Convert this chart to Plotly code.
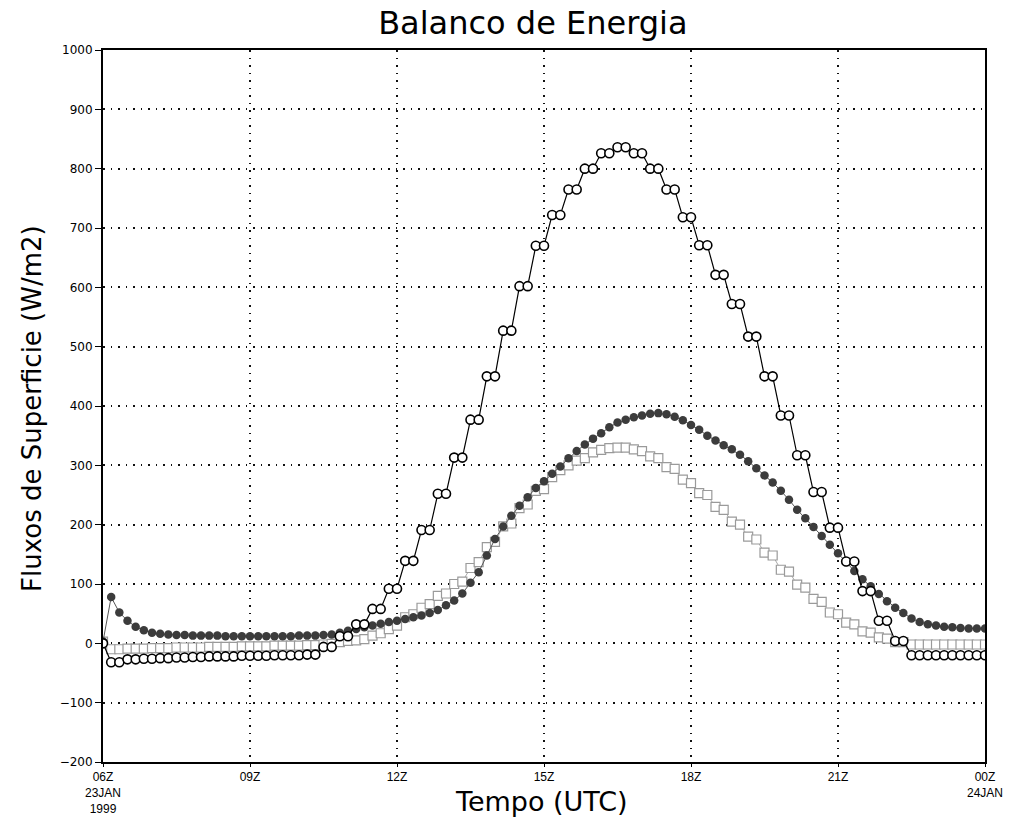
import plotly.graph_objects as go

# Time axis: 10-minute outputs from 06Z 23JAN1999 to 00Z 24JAN (hours)
N_STEPS = 109
TIME_HOURS = [6 + i / 6 for i in range(N_STEPS)]

# Open circles (black) - stepped series
SERIE_CIRCULOS = [0,
    -32, -32, -27, -27, -26, -26, -25, -25, -24, -24, -23, -23, -22, -22,
    -22, -22, -21, -21, -21, -21, -20, -20, -20, -20, -19, -19,
    -6, -6, 12, 12, 32, 32, 58, 58, 92, 92, 139, 139, 191, 191,
    252, 252, 313, 313, 377, 377,
    450, 450, 527, 527, 602, 602, 670, 670, 722, 722, 765, 765,
    800, 800, 826, 826, 836, 836, 826, 826,
    800, 800, 765, 765, 718, 718, 671, 671, 621, 621, 572, 572,
    517, 517, 450, 450, 384, 384, 317, 317,
    255, 255, 195, 195, 138, 138, 88, 88, 38, 38, 4, 4,
    -20, -20, -20, -20, -20, -20, -20, -20, -20, -20]

# Filled dark circles
SERIE_ESCURA = [3, 78, 52, 38, 28, 22, 18, 16, 15, 14,
    14, 13, 13, 13, 13, 12, 12, 12, 12, 12,
    12, 12, 12, 12, 13, 13, 13, 14, 15, 18,
    21, 24, 27, 30, 33, 36, 38, 41, 44, 47,
    51, 56, 64, 72, 84, 102, 120, 148, 176, 197,
    215, 232, 246, 262, 273, 286, 298, 312, 324, 335,
    345, 354, 364, 372, 377, 381, 384, 387, 388, 386,
    382, 376, 368, 360, 350, 342, 334, 327, 318, 307,
    295, 283, 271, 257, 242, 225, 211, 196, 181, 166,
    152, 137, 122, 108, 96, 83, 71, 60, 51, 42,
    36, 32, 30, 28, 27, 26, 25, 25, 25]

# Open light-gray squares
SERIE_QUADRADOS = [3, -10, -10, -9, -9, -9, -8, -8, -8, -7,
    -7, -7, -7, -6, -6, -6, -6, -5, -5, -5,
    -5, -4, -4, -4, -4, -3, -3, -2, -1, 2,
    4, 5, 7, 13, 17, 24, 30, 44, 49, 60,
    66, 80, 84, 100, 104, 127, 137, 162, 171, 197,
    202, 228, 234, 257, 260, 280, 292, 300, 308, 312,
    322, 326, 329, 330, 330, 327, 324, 315, 312, 297,
    294, 276, 270, 253, 250, 230, 225, 205, 200, 180,
    175, 153, 148, 124, 121, 99, 94, 75, 70, 52,
    49, 35, 32, 20, 18, 10, 8, 2, 2, -2,
    -2, -2, -2, -2, -2, -2, -2, -2, -2]

X_TICK_VALS = [6, 9, 12, 15, 18, 21, 24]
X_TICK_TEXT = ["06Z<br>23JAN<br>1999", "09Z", "12Z", "15Z", "18Z", "21Z", "00Z<br>24JAN"]
Y_TICK_VALS = [-200, -100, 0, 100, 200, 300, 400, 500, 600, 700, 800, 900, 1000]

fig = go.Figure()

fig.add_trace(go.Scatter(
    x=TIME_HOURS, y=SERIE_QUADRADOS, mode="lines+markers",
    line=dict(color="#a8a8a8", width=1),
    marker=dict(symbol="square", size=9, color="white",
                line=dict(color="#9a9a9a", width=1.2)),
    showlegend=False))

fig.add_trace(go.Scatter(
    x=TIME_HOURS, y=SERIE_ESCURA, mode="lines+markers",
    line=dict(color="#555555", width=1),
    marker=dict(symbol="circle", size=8.5, color="#3c3c3c",
                line=dict(color="#3c3c3c", width=0)),
    showlegend=False))

fig.add_trace(go.Scatter(
    x=TIME_HOURS, y=SERIE_CIRCULOS, mode="lines+markers",
    line=dict(color="black", width=1.2),
    marker=dict(symbol="circle", size=9, color="white",
                line=dict(color="black", width=1.6)),
    showlegend=False))

GRID_DASH = "1.5px,6px"

fig.update_layout(
    width=1015, height=828,
    margin=dict(l=103, r=26, t=50, b=63),
    paper_bgcolor="white", plot_bgcolor="white",
    font=dict(family="DejaVu Sans, Liberation Sans, sans-serif", color="black"),
    title=dict(text="Balanco de Energia", x=0.525, xref="container",
               y=0.972, yref="container", xanchor="center", yanchor="middle",
               font=dict(size=32, family="DejaVu Sans, sans-serif", color="black")),
)

fig.update_xaxes(
    range=[6, 24], tickvals=X_TICK_VALS, ticktext=X_TICK_TEXT,
    showgrid=True, gridcolor="#111111", griddash=GRID_DASH, gridwidth=1.5,
    showline=True, linecolor="black", linewidth=2, mirror=True,
    ticks="outside", ticklen=3, tickcolor="black",
    tickfont=dict(size=12, family="Liberation Sans Narrow, Liberation Sans, sans-serif"),
    zeroline=False)

fig.update_yaxes(
    range=[-200, 1000], tickvals=Y_TICK_VALS,
    showgrid=True, gridcolor="#111111", griddash=GRID_DASH, gridwidth=1.5,
    showline=True, linecolor="black", linewidth=2, mirror=True,
    ticks="outside", ticklen=6, tickcolor="black",
    tickfont=dict(size=12, family="DejaVu Sans, sans-serif"),
    zeroline=False)

fig.add_annotation(text="Fluxos de Superficie (W/m2)", xref="paper", yref="paper",
                   x=-0.080, y=0.4965, textangle=-90, showarrow=False,
                   xanchor="center", yanchor="middle",
                   font=dict(size=26, family="DejaVu Sans, sans-serif", color="black"))
fig.add_annotation(text="Tempo (UTC)", xref="paper", yref="paper",
                   x=0.4966, y=-0.056, showarrow=False,
                   xanchor="center", yanchor="middle",
                   font=dict(size=27, family="DejaVu Sans, sans-serif", color="black"))

fig.write_html("out.html")
